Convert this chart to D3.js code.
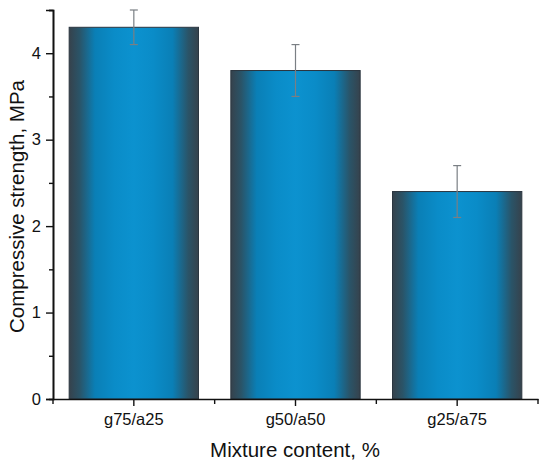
<!DOCTYPE html>
<html><head><meta charset="utf-8">
<script src="https://cdn.jsdelivr.net/npm/d3@7"></script>
<style>body{margin:0;background:#fff}svg{display:block}text{font-family:"Liberation Sans",Arial,sans-serif;fill:#111}</style>
</head><body>
<svg id="c" width="550" height="464"></svg>
<script>
const categories = ["g75/a25", "g50/a50", "g25/a75"];
const values = [4.3, 3.8, 2.4];
const errors = [0.2, 0.3, 0.3];
const yTicks = [0, 1, 2, 3, 4];
const xTitle = "Mixture content, %";
const yTitle = "Compressive strength, MPa";

const svg = d3.select("#c");
const m = {l: 53, r: 12, t: 10, b: 65};
const W = 550, H = 464;
const xb = d3.scaleBand().domain(categories).range([m.l, W - m.r]);
const y = d3.scaleLinear().domain([0, 4.5]).range([H - m.b, m.t]);

const defs = svg.append("defs");
const g = defs.append("linearGradient").attr("id", "bg").attr("x1", "0").attr("x2", "1").attr("y1", "0").attr("y2", "0");
[[0, "#36424c"], [0.08, "#2a5468"], [0.2, "#0a7fb6"], [0.35, "#0a8cc8"], [0.5, "#0c92cf"], [0.65, "#0a8cc8"], [0.8, "#0a7fb6"], [0.92, "#2a5468"], [1, "#36424c"]]
  .forEach(([o, c]) => g.append("stop").attr("offset", o).attr("stop-color", c));

const bw = xb.bandwidth() * 0.8;
svg.selectAll("rect.bar").data(categories).enter().append("rect").attr("class", "bar")
  .attr("x", d => xb(d) + (xb.bandwidth() - bw) / 2)
  .attr("width", bw)
  .attr("y", (d, i) => y(values[i]))
  .attr("height", (d, i) => y(0) - y(values[i]))
  .attr("fill", "url(#bg)")
  .attr("stroke", "#2b3640").attr("stroke-width", 1);

// error bars
const eb = svg.append("g").attr("stroke", "#7a7f84").attr("stroke-width", 1.2);
categories.forEach((c, i) => {
  const cx = xb(c) + xb.bandwidth() / 2;
  eb.append("line").attr("x1", cx).attr("x2", cx).attr("y1", y(values[i] + errors[i])).attr("y2", y(values[i] - errors[i]));
  eb.append("line").attr("x1", cx - 4).attr("x2", cx + 4).attr("y1", y(values[i] + errors[i])).attr("y2", y(values[i] + errors[i]));
  eb.append("line").attr("x1", cx - 4).attr("x2", cx + 4).attr("y1", y(values[i] - errors[i])).attr("y2", y(values[i] - errors[i]));
});

// y axis
const ya = svg.append("g").attr("transform", `translate(${m.l},0)`)
  .call(d3.axisLeft(y).tickValues(yTicks).tickFormat(d3.format("d")).tickSize(7).tickPadding(5));
ya.append("g").call(d3.axisLeft(y).tickValues([0.5, 1.5, 2.5, 3.5, 4.5]).tickSize(4).tickFormat(""));
ya.selectAll(".domain").attr("stroke", "#111").attr("stroke-width", 1.6);
ya.selectAll(".tick line").attr("stroke", "#111").attr("stroke-width", 1.4);
ya.selectAll(".tick text").attr("font-size", 16.5).attr("fill", "#222");

// x axis
const xa = svg.append("g").attr("transform", `translate(0,${y(0)})`)
  .call(d3.axisBottom(xb).tickSize(7).tickPadding(7).tickSizeOuter(0));
xa.selectAll(".domain").attr("stroke", "#111").attr("stroke-width", 1.6);
xa.selectAll(".tick line").attr("stroke", "#111").attr("stroke-width", 1.4);
xa.selectAll(".tick text").attr("font-size", 16.5).attr("fill", "#222");
const bounds = [xb.range()[0]].concat(categories.map(c => xb(c) + xb.bandwidth()));
xa.selectAll("line.minor").data(bounds).enter().append("line").attr("class", "minor")
  .attr("x1", d => d).attr("x2", d => d).attr("y1", 0).attr("y2", 5)
  .attr("stroke", "#111").attr("stroke-width", 1.4);

svg.append("text").attr("x", 295).attr("y", 457).attr("text-anchor", "middle")
  .attr("font-size", 20.5).attr("fill", "#222").text(xTitle);
svg.append("text").attr("transform", `translate(24,${(y(0) + m.t) / 2 + 2}) rotate(-90)`).attr("text-anchor", "middle")
  .attr("font-size", 20.5).attr("fill", "#222").text(yTitle);
</script>
</body></html>
